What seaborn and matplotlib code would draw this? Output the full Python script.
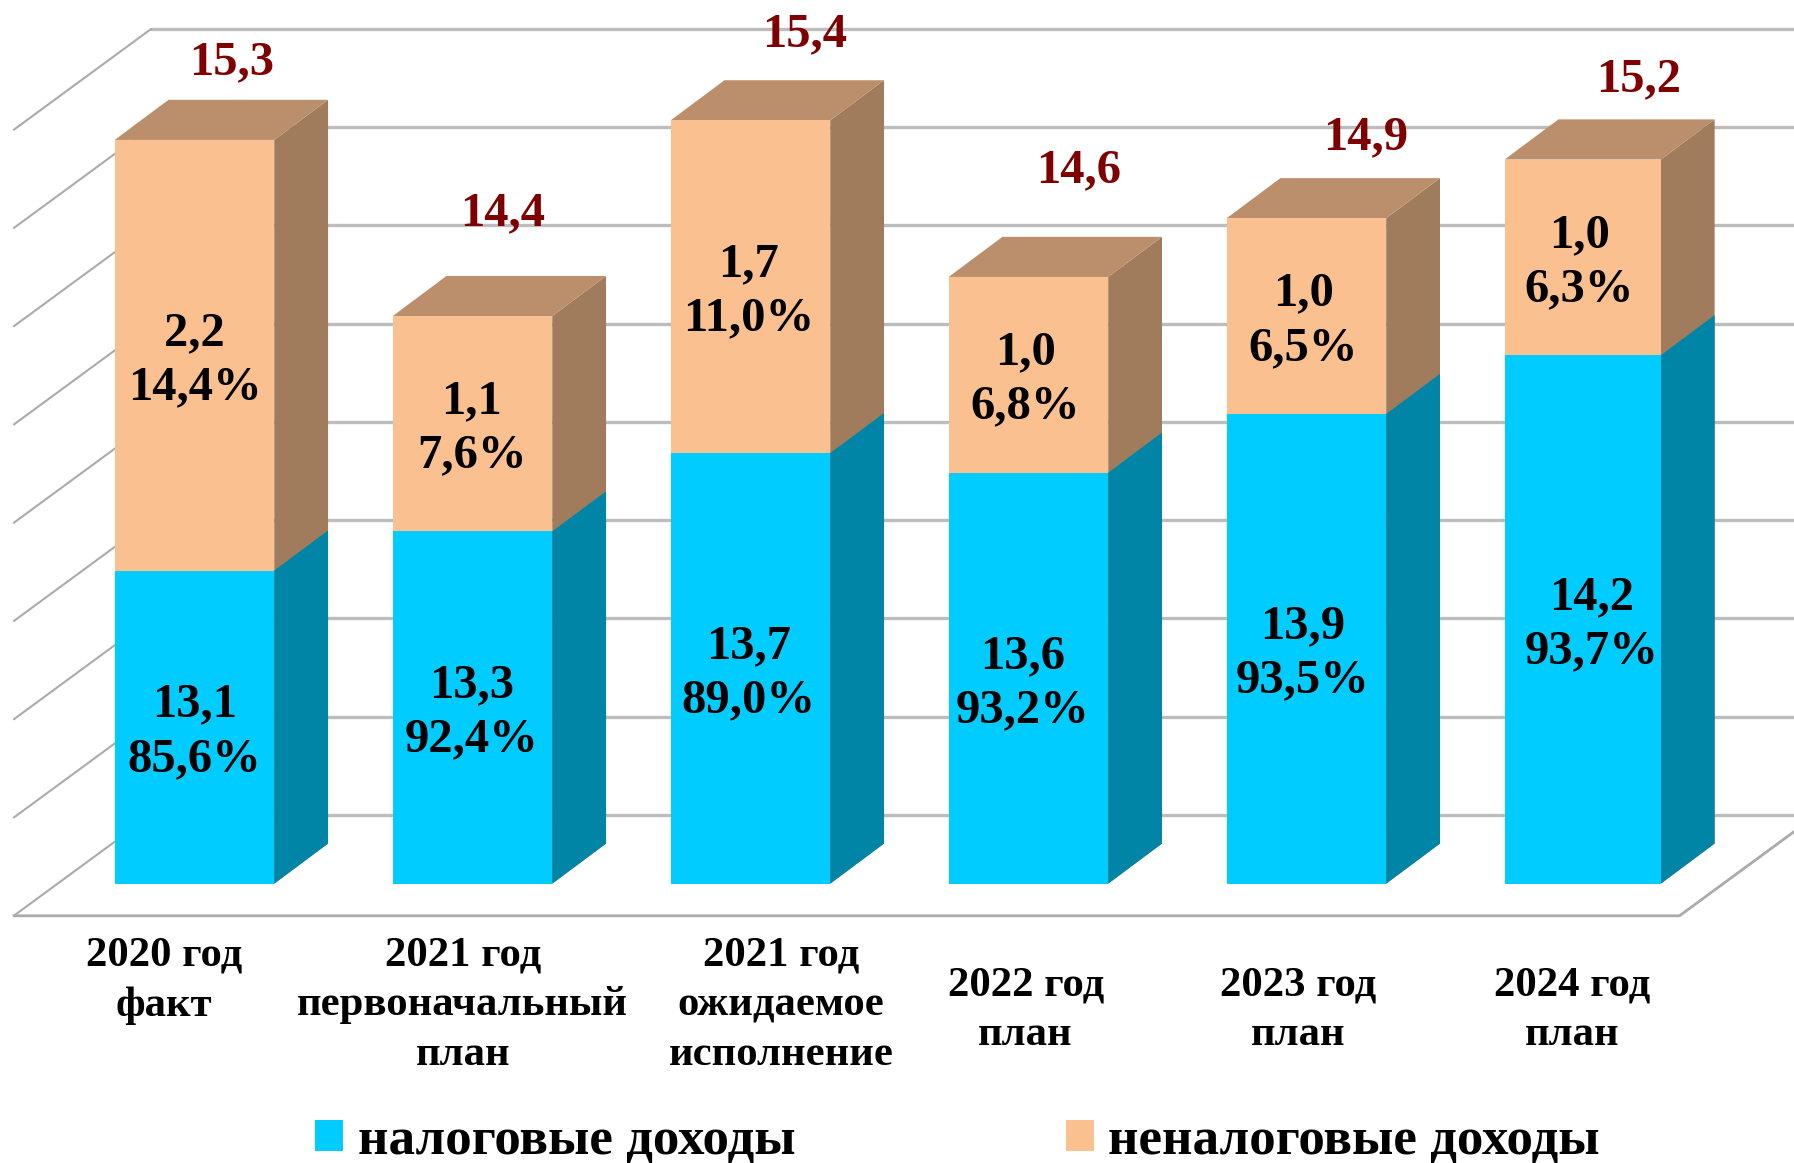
import numpy as np
import pandas as pd
import matplotlib.pyplot as plt
import seaborn as sns

sns.set_style("white")
plt.rcParams["font.family"] = ["Liberation Serif", "DejaVu Serif"]
plt.rcParams["font.weight"] = "bold"

# Chart data
categories = ["2020 год\nфакт", "2021 год\nпервоначальный\nплан", "2021 год\nожидаемое\nисполнение",
              "2022 год\nплан", "2023 год\nплан", "2024 год\nплан"]
tax_income = [13.1, 13.3, 13.7, 13.6, 13.9, 14.2]
nontax_income = [2.2, 1.1, 1.7, 1.0, 1.0, 1.0]
totals = [15.3, 14.4, 15.4, 14.6, 14.9, 15.2]
tax_labels = ["13,1\n85,6%", "13,3\n92,4%", "13,7\n89,0%", "13,6\n93,2%", "13,9\n93,5%", "14,2\n93,7%"]
nontax_labels = ["2,2\n14,4%", "1,1\n7,6%", "1,7\n11,0%", "1,0\n6,8%", "1,0\n6,5%", "1,0\n6,3%"]
total_labels = ["15,3", "14,4", "15,4", "14,6", "14,9", "15,2"]
series_names = ["налоговые доходы", "неналоговые доходы"]

# The value axis of the original starts well above zero
AXIS_START = 11.5

df = pd.DataFrame({"category": categories, "tax": tax_income, "total": totals})
df["tax_h"] = df["tax"] - AXIS_START
df["total_h"] = df["total"] - AXIS_START

fig, ax = plt.subplots(figsize=(17.94, 11.63), dpi=100)
fig.subplots_adjust(left=0, right=1, bottom=0, top=1)

# Stacked look: full height first, the lower series over it
sns.barplot(data=df, x="category", y="total_h", color="#FAC090", saturation=1, width=0.574, ax=ax, linewidth=0)
sns.barplot(data=df, x="category", y="tax_h", color="#00CCFF", saturation=1, width=0.574, ax=ax, linewidth=0)

ax.set_xlim(-0.6996, 5.754)
ax.set_ylim(-1.427, 4.515)
ax.set_axis_off()

# Box depth of the bars
dx, dy = 0.1935, 0.205
for bars, top_col, side_col in [(ax.containers[0], "#BC8F6C", "#A07C5C"), (ax.containers[1], None, "#0085A6")]:
    # last bar is a touch narrower in the original
    bars[-1].set_width(0.562)
    for p in bars:
        x0 = p.get_x()
        x1 = x0 + p.get_width()
        h = p.get_height()
        ax.fill([x1, x1 + dx, x1 + dx, x1], [0, dy, h + dy, h], color=side_col, lw=0, zorder=0.9)
        if top_col:
            ax.fill([x0, x0 + dx, x1 + dx, x1], [h, h + dy, h + dy, h], color=top_col, lw=0, zorder=0.9)

# Back wall, side wall and floor
wall_dx, wall_dy = 0.494, 0.515
floor_y = -0.164
front_x0, front_x1 = -0.65, 5.342
for g in floor_y + wall_dy + 0.502 * np.arange(9):
    ax.plot([front_x0 + wall_dx, 5.754], [g, g], color="#BDBDBD", lw=2.4, zorder=0.5)
    ax.plot([front_x0, front_x0 + wall_dx], [g - wall_dy, g], color="#ABABAB", lw=1.5, zorder=0.5)
ax.plot([front_x0, front_x1, front_x1 + wall_dx], [floor_y, floor_y, floor_y + wall_dy],
        color="#ABABAB", lw=2, zorder=0.5)

# Labels inside the bars, with the small shifts seen in the original
tax_shift = [0, -0.002, -0.006, -0.022, -0.015, 0.027]
nontax_shift = [0, -0.002, -0.006, -0.012, -0.012, -0.018]
for i in range(len(categories)):
    tax_h = df["tax_h"][i]
    total_h = df["total_h"][i]
    ax.text(i + tax_shift[i], tax_h / 2 - 0.024, tax_labels[i], ha="center", va="center",
            fontsize=35, color="black", linespacing=1.3)
    ax.text(i + nontax_shift[i], (tax_h + total_h) / 2 - 0.024, nontax_labels[i], ha="center", va="center",
            fontsize=35, color="black", linespacing=1.3)

# Totals above the bars
total_dx = [0.132, 0.109, 0.195, 0.179, 0.212, 0.195]
total_dy = [0.395, 0.523, 0.441, 0.546, 0.412, 0.412]
for i, label in enumerate(total_labels):
    ax.text(i + total_dx[i], df["total_h"][i] + total_dy[i], label, ha="center", va="center",
            fontsize=35, color="#7F0000")

# Category labels, placed by hand like in the original
cat_dx = [-0.11, -0.035, 0.11, -0.01, -0.03, -0.045]
cat_top = [-0.271, -0.271, -0.271, -0.422, -0.422, -0.422]
for i, label in enumerate(categories):
    ax.text(i + cat_dx[i], cat_top[i], label, ha="center", va="top", fontsize=30.8, color="black", linespacing=1.4)

leg = ax.legend([ax.containers[1], ax.containers[0]], series_names, loc="center", bbox_to_anchor=(0.5338, 0.019),
                ncol=2, frameon=False, fontsize=38.2, handlelength=0.52, handleheight=0.52, handletextpad=0.28,
                columnspacing=5.1, borderpad=0, borderaxespad=0, labelcolor="black")

plt.savefig("out.png", dpi=100)
